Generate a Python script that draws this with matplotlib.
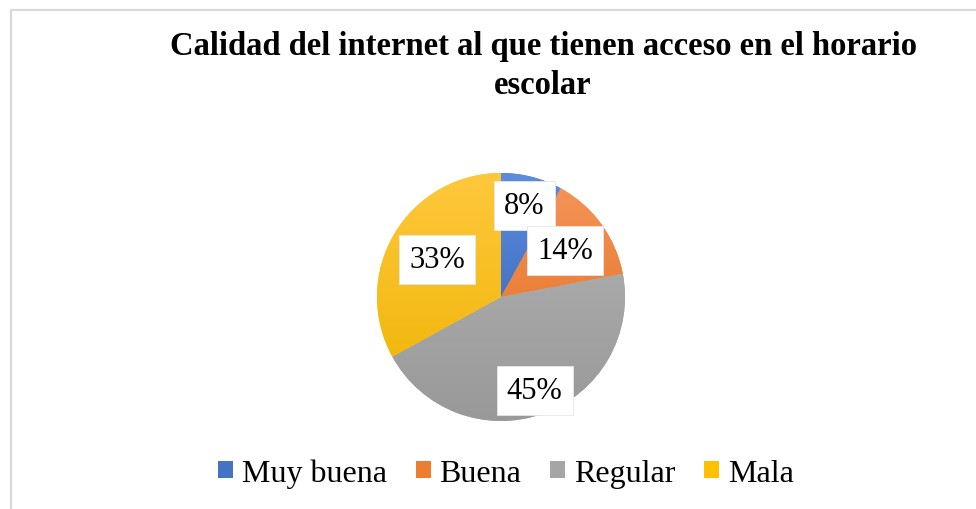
import numpy as np
import matplotlib
matplotlib.use("Agg")
import matplotlib.pyplot as plt
from matplotlib.colors import LinearSegmentedColormap
from matplotlib.patches import Rectangle

categories = ["Muy buena", "Buena", "Regular", "Mala"]
values = [8, 14, 45, 33]
pct_labels = ["8%", "14%", "45%", "33%"]
title = "Calidad del internet al que tienen acceso en el horario\nescolar"

base_colors = ["#4472C4", "#ED7D31", "#A5A5A5", "#FFC000"]
top_colors = ["#5C8CDB", "#F5965A", "#B4B4B4", "#FFC83C"]
bottom_colors = ["#2F5DB5", "#E0691A", "#999999", "#EDB300"]
label_dist = [0.76, 0.64, 0.80, 0.60]

plt.rcParams["font.family"] = ["Liberation Serif", "DejaVu Serif"]

W, H = 976, 510
fig = plt.figure(figsize=(W / 100, H / 100), dpi=100)
ax = fig.add_axes([0, 0, 1, 1])

cx, cy, r = 501, H - 298, 124
wedges, _ = ax.pie(values, center=(cx, cy), radius=r, startangle=90,
                   counterclock=False, colors=base_colors, frame=True,
                   wedgeprops=dict(linewidth=0))
ax.set_xlim(0, W)
ax.set_ylim(0, H)
ax.set_aspect("equal")
ax.axis("off")

# gradient fills clipped to wedges
grad = np.linspace(0, 1, 256).reshape(-1, 1)
for w, tc, bc in zip(wedges, top_colors, bottom_colors):
    cmap = LinearSegmentedColormap.from_list("g", [tc, bc])
    im = ax.imshow(grad, cmap=cmap, extent=[cx - r, cx + r, cy - r, cy + r],
                   origin="upper", aspect="auto", zorder=w.get_zorder() + 0.1)
    im.set_clip_path(w)

# data labels
for w, lab, d in zip(wedges, pct_labels, label_dist):
    ang = np.deg2rad((w.theta1 + w.theta2) / 2)
    x = cx + d * r * np.cos(ang)
    y = cy + d * r * np.sin(ang)
    ax.text(x, y, lab, ha="center", va="center", fontsize=22, zorder=10,
            bbox=dict(boxstyle="square,pad=0.33", fc="white", ec="#e6e6e6", lw=0.6))

# border of chart area
ax.add_patch(Rectangle((10.5, -20), W + 20, H - 10.5 + 20, fill=False,
                       ec="#d9d9d9", lw=1.6, zorder=0))

fig.text(543 / W, 1 - 31 / H, title, ha="center", va="top", fontsize=23.5,
         fontweight="bold", linespacing=1.35)

leg = ax.legend(wedges, categories, loc="center", bbox_to_anchor=(506 / W, 1 - 474 / H),
                ncol=4, frameon=False, fontsize=23, handlelength=0.47, handleheight=0.47,
                handletextpad=0.28, columnspacing=0.9, bbox_transform=fig.transFigure)

fig.savefig("out.png", dpi=100)
